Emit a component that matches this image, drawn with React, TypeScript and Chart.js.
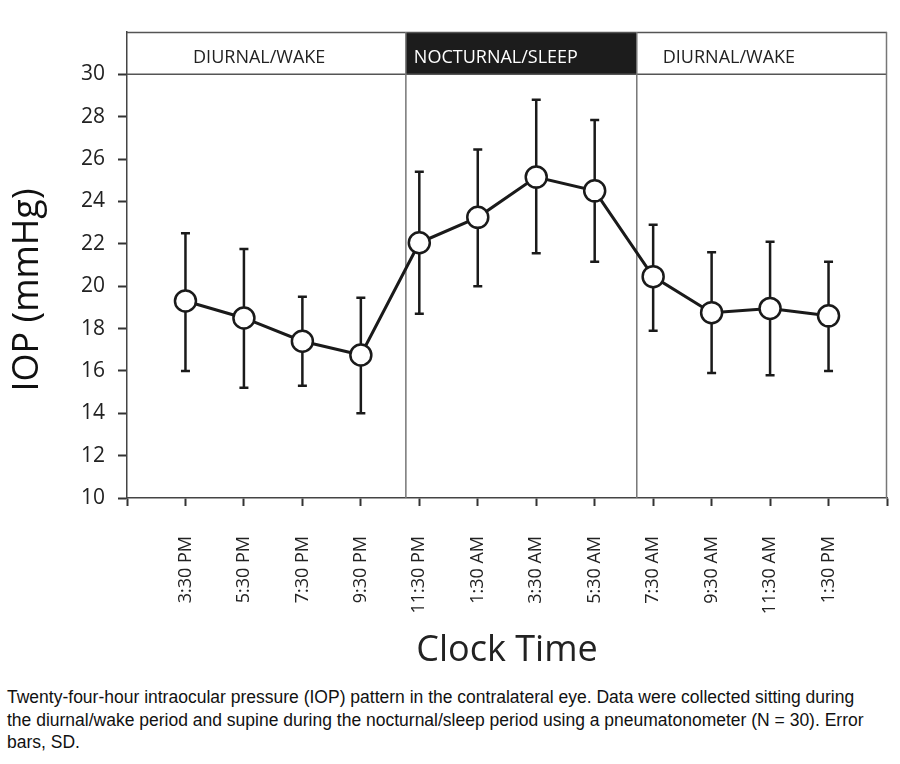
import React, { useEffect, useRef } from 'react';
import { Chart, registerables } from 'chart.js';

Chart.register(...registerables);

const timeLabels = ['3:30 PM', '5:30 PM', '7:30 PM', '9:30 PM', '11:30 PM', '1:30 AM', '3:30 AM', '5:30 AM', '7:30 AM', '9:30 AM', '11:30 AM', '1:30 PM'];
const iopMean = [19.3, 18.5, 17.4, 16.75, 22.05, 23.25, 25.15, 24.5, 20.45, 18.75, 18.95, 18.6];
const iopUpper = [22.5, 21.75, 19.5, 19.45, 25.4, 26.45, 28.8, 27.85, 22.9, 21.6, 22.1, 21.15];
const iopLower = [16.0, 15.2, 15.3, 14.0, 18.7, 20.0, 21.55, 21.15, 17.9, 15.9, 15.8, 16.0];
const yTickValues = [10, 12, 14, 16, 18, 20, 22, 24, 26, 28, 30];
const periodLabels = ['DIURNAL/WAKE', 'NOCTURNAL/SLEEP', 'DIURNAL/WAKE'];
const periodBounds = [4.77, 8.72];

const FONT = '"Open Sans", "Noto Sans", sans-serif';

const bandPlugin = {
  id: 'bandPlugin',
  beforeDatasetsDraw(chart: any) {
    const { ctx, chartArea, scales } = chart;
    const x = scales.x;
    const y = scales.y;
    const top = chartArea.top;
    const bandBottom = y.getPixelForValue(30);
    const b0 = x.getPixelForValue(periodBounds[0]);
    const b1 = x.getPixelForValue(periodBounds[1]);
    ctx.save();
    ctx.fillStyle = '#1c1c1c';
    ctx.fillRect(b0, top, b1 - b0, bandBottom - top);
    ctx.strokeStyle = '#555';
    ctx.lineWidth = 1.5;
    ctx.beginPath();
    ctx.moveTo(chartArea.left, top + 0.5);
    ctx.lineTo(chartArea.right, top + 0.5);
    ctx.moveTo(chartArea.left, bandBottom);
    ctx.lineTo(chartArea.right, bandBottom);
    ctx.stroke();
    ctx.strokeStyle = '#777';
    ctx.beginPath();
    ctx.moveTo(chartArea.right - 0.5, top);
    ctx.lineTo(chartArea.right - 0.5, chartArea.bottom);
    ctx.moveTo(b0, top);
    ctx.lineTo(b0, chartArea.bottom);
    ctx.moveTo(b1, top);
    ctx.lineTo(b1, chartArea.bottom);
    ctx.stroke();
    ctx.font = `18px ${FONT}`;
    ctx.textBaseline = 'alphabetic';
    ctx.textAlign = 'left';
    const starts = [x.getPixelForValue(1.13), b0 + 8, b1 + 26];
    periodLabels.forEach((t, i) => {
      ctx.fillStyle = i === 1 ? '#ffffff' : '#222';
      ctx.fillText(t, starts[i], bandBottom - 11);
    });
    ctx.strokeStyle = '#1a1a1a';
    ctx.lineWidth = 2.5;
    iopMean.forEach((m, i) => {
      const px = x.getPixelForValue(i + 1);
      const pu = y.getPixelForValue(iopUpper[i]);
      const pl = y.getPixelForValue(iopLower[i]);
      ctx.beginPath();
      ctx.moveTo(px, pu);
      ctx.lineTo(px, pl);
      ctx.moveTo(px - 4.5, pu);
      ctx.lineTo(px + 4.5, pu);
      ctx.moveTo(px - 4.5, pl);
      ctx.lineTo(px + 4.5, pl);
      ctx.stroke();
    });
    ctx.restore();
  },
  afterDraw(chart: any) {
    const { ctx } = chart;
    ctx.save();
    ctx.translate(28, 290);
    ctx.rotate(-Math.PI / 2);
    ctx.font = `36px ${FONT}`;
    ctx.fillStyle = '#111';
    ctx.textAlign = 'center';
    ctx.textBaseline = 'middle';
    ctx.fillText('IOP (mmHg)', 0, 0);
    ctx.restore();
  },
};

export default function App() {
  const ref = useRef<HTMLCanvasElement>(null);
  useEffect(() => {
    if (!ref.current) return;
    const chart = new Chart(ref.current, {
      type: 'line',
      data: {
        datasets: [
          {
            data: iopMean.map((v, i) => ({ x: i + 1, y: v })),
            borderColor: '#1a1a1a',
            borderWidth: 3,
            pointRadius: 10.5,
            pointBackgroundColor: '#ffffff',
            pointBorderColor: '#1a1a1a',
            pointBorderWidth: 2.5,
            tension: 0,
          },
        ],
      },
      options: {
        animation: false,
        responsive: false,
        events: [],
        layout: { padding: { top: 32, right: 12, left: 0, bottom: 0 } },
        plugins: { legend: { display: false }, tooltip: { enabled: false } },
        scales: {
          x: {
            type: 'linear',
            min: 0,
            max: 13,
            afterBuildTicks: (s: any) => {
              s.ticks = Array.from({ length: 14 }, (_, i) => ({ value: i }));
            },
            afterFit: (s: any) => {
              s.height = 182;
              s.paddingLeft = 0;
              s.paddingRight = 0;
            },
            grid: { drawOnChartArea: false, drawTicks: true, tickLength: 8, tickWidth: 2, color: '#333' },
            border: { display: true, color: '#444', width: 1.5 },
            ticks: {
              autoSkip: false,
              minRotation: 90,
              maxRotation: 90,
              padding: 30,
              color: '#222',
              font: { family: FONT, size: 18 },
              callback: (v: any) => timeLabels[Number(v) - 1] ?? '',
            },
            title: {
              display: true,
              text: 'Clock Time',
              color: '#222',
              font: { family: FONT, size: 36 },
              padding: { top: 0, bottom: 8 },
            },
          },
          y: {
            type: 'linear',
            min: 10,
            max: 32,
            afterBuildTicks: (s: any) => {
              s.ticks = yTickValues.map((v) => ({ value: v }));
            },
            afterFit: (s: any) => {
              s.width = 127;
              s.paddingTop = 0;
              s.paddingBottom = 0;
            },
            grid: { drawOnChartArea: false, drawTicks: true, tickLength: 9, tickWidth: 2, color: '#333' },
            border: { display: true, color: '#444', width: 1.5 },
            ticks: {
              padding: 13,
              color: '#222',
              font: { family: FONT, size: 21 },
            },
          },
        },
      },
      plugins: [bandPlugin],
    });
    return () => chart.destroy();
  }, []);

  return (
    <div style={{ position: 'fixed', left: 0, top: 0, width: 900, height: 764, background: '#fff' }}>
      <canvas ref={ref} width={900} height={680} style={{ position: 'absolute', left: 0, top: 0 }} />
      <div
        style={{
          position: 'absolute',
          left: 7,
          top: 686,
          fontFamily: '"Liberation Sans", Arial, sans-serif',
          fontSize: 17.5,
          lineHeight: '22.5px',
          color: '#111',
          whiteSpace: 'nowrap',
        }}
      >
        <div>Twenty-four-hour intraocular pressure (IOP) pattern in the contralateral eye. Data were collected sitting during</div>
        <div>the diurnal/wake period and supine during the nocturnal/sleep period using a pneumatonometer (N = 30). Error</div>
        <div>bars, SD.</div>
      </div>
    </div>
  );
}
